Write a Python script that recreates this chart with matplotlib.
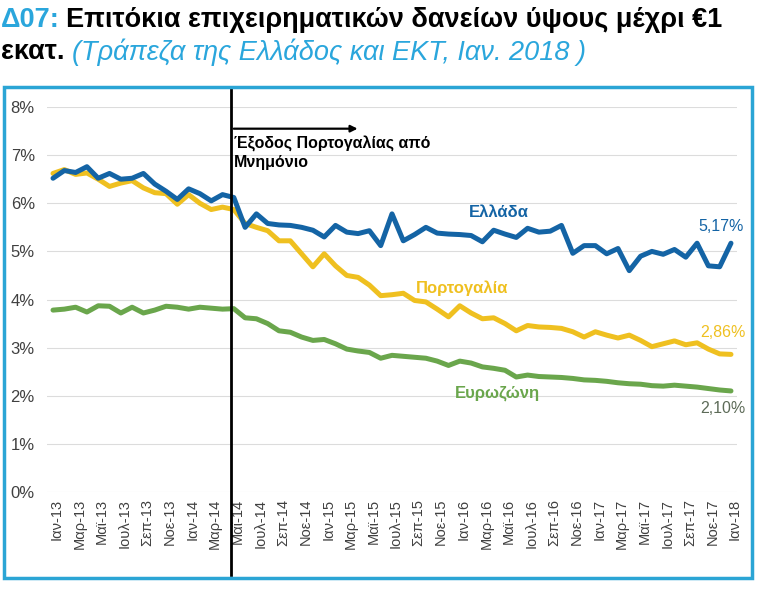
import matplotlib
matplotlib.use('Agg')
from matplotlib import pyplot as plt
from matplotlib.patches import Rectangle
from matplotlib.transforms import IdentityTransform, ScaledTranslation

plt.rcParams['font.family'] = ['Liberation Sans', 'DejaVu Sans']

# monthly, Jan-13 .. Jan-18
months = ['Ιαν', 'Φεβ', 'Μαρ', 'Απρ', 'Μαϊ', 'Ιουν', 'Ιουλ', 'Αυγ', 'Σεπ', 'Οκτ', 'Νοε', 'Δεκ']
labels = [months[i % 12] + '-' + str(13 + i // 12) for i in range(61)]

greece = [6.52, 6.68, 6.64, 6.76, 6.52, 6.62, 6.50, 6.52, 6.62, 6.40,
          6.25, 6.08, 6.30, 6.20, 6.05, 6.18, 6.12, 5.50, 5.78, 5.58,
          5.55, 5.54, 5.50, 5.44, 5.30, 5.54, 5.40, 5.37, 5.43, 5.12,
          5.78, 5.22, 5.35, 5.50, 5.38, 5.36, 5.35, 5.33, 5.20, 5.44,
          5.36, 5.29, 5.48, 5.40, 5.42, 5.54, 4.96, 5.12, 5.12, 4.95,
          5.06, 4.60, 4.90, 5.00, 4.94, 5.04, 4.88, 5.17, 4.70, 4.68,
          5.17]
portugal = [6.62, 6.70, 6.60, 6.63, 6.50, 6.35, 6.42, 6.47, 6.32, 6.22,
            6.20, 5.98, 6.18, 6.00, 5.87, 5.92, 5.87, 5.58, 5.50, 5.43,
            5.22, 5.22, 4.95, 4.68, 4.95, 4.70, 4.50, 4.46, 4.30, 4.08,
            4.10, 4.13, 3.98, 3.95, 3.80, 3.64, 3.87, 3.72, 3.60, 3.62,
            3.50, 3.35, 3.46, 3.43, 3.42, 3.40, 3.33, 3.22, 3.33, 3.26,
            3.20, 3.26, 3.15, 3.02, 3.08, 3.14, 3.06, 3.10, 2.97, 2.87,
            2.86]
eurozone = [3.78, 3.80, 3.84, 3.74, 3.87, 3.86, 3.72, 3.84, 3.72, 3.78,
            3.86, 3.84, 3.80, 3.84, 3.82, 3.80, 3.81, 3.62, 3.60, 3.50,
            3.35, 3.32, 3.22, 3.15, 3.17, 3.08, 2.97, 2.93, 2.90, 2.78,
            2.84, 2.82, 2.80, 2.78, 2.72, 2.63, 2.72, 2.68, 2.60, 2.57,
            2.53, 2.39, 2.43, 2.40, 2.39, 2.38, 2.36, 2.33, 2.32, 2.30,
            2.27, 2.25, 2.24, 2.21, 2.20, 2.22, 2.20, 2.18, 2.15, 2.12,
            2.10]

c_gr = '#1464a5'
c_pt = '#efc020'
c_ez = '#6aa64c'
c_title = '#2aa6dc'

fig = plt.figure(figsize=(7.69, 5.91), dpi=100)
ax = fig.add_axes([0.0616, 0.1675, 0.8963, 0.6514])

x = list(range(len(labels)))
for ys, c, z in [(greece, c_gr, 3), (portugal, c_pt, 2), (eurozone, c_ez, 2)]:
    ax.plot(x, ys, color=c, lw=3.6, solid_capstyle='round', solid_joinstyle='round', zorder=z)

ax.set_xlim(-0.5, 60.5)
ax.set_ylim(0, 8)
ax.set_yticks(range(0, 9))
ax.set_yticklabels([str(v) + '%' for v in range(0, 9)], fontsize=12, color='#404040')
ax.set_xticks(x[::2])
ax.set_xticklabels(labels[::2], rotation=90, fontsize=10.5, color='#404040')
ax.tick_params(length=0)
ax.tick_params(axis='y', pad=9)
ax.tick_params(axis='x', pad=5)
shift = ScaledTranslation(4 / 100, 0, fig.dpi_scale_trans)
for lab in ax.get_xticklabels():
    lab.set_transform(lab.get_transform() + shift)
ax.grid(axis='y', color='#dcdcdc', lw=0.8)
ax.set_axisbelow(True)
for s in ax.spines.values():
    s.set_visible(False)

# Portugal exits memorandum (May-14)
ax.plot([15.75, 15.75], [-1.72, 8.38], color='black', lw=2, clip_on=False, zorder=4)
ax.annotate('', xy=(27.2, 7.55), xytext=(15.75, 7.55),
            arrowprops=dict(arrowstyle='-|>', color='black', lw=1.6, mutation_scale=10))
ax.text(16.0, 7.4, 'Έξοδος Πορτογαλίας από\nΜνημόνιο', fontsize=11.5, fontweight='bold',
        va='top', ha='left', linespacing=1.25)

ax.text(39.5, 5.81, 'Ελλάδα', color=c_gr, fontsize=12, fontweight='bold', ha='center', va='center')
ax.text(36.2, 4.23, 'Πορτογαλία', color=c_pt, fontsize=12, fontweight='bold', ha='center', va='center')
ax.text(39.3, 2.05, 'Ευρωζώνη', color=c_ez, fontsize=12, fontweight='bold', ha='center', va='center')

ax.text(59.1, 5.52, '5,17%', color=c_gr, fontsize=11.5, ha='center', va='center')
ax.text(59.3, 3.32, '2,86%', color=c_pt, fontsize=11.5, ha='center', va='center')
ax.text(59.3, 1.74, '2,10%', color='#5d6b58', fontsize=11.5, ha='center', va='center')

# frame around chart
fig.patches.append(Rectangle((0.0052, 0.022), 0.9728, 0.831, transform=fig.transFigure,
                             fill=False, edgecolor='#2ba5d5', lw=2.5))

# title pieces, placed one after another in pixels
fig.canvas.draw()
r = fig.canvas.get_renderer()
H = 591


def put(x0, yc, s, **kw):
    t = fig.text(x0, H - yc, s, transform=IdentityTransform(), va='center', ha='left', **kw)
    return t.get_window_extent(renderer=r).x1


xe = put(1, 20, 'Δ07:', color=c_title, fontsize=19.5, fontweight='bold')
put(xe + 6, 20, 'Επιτόκια επιχειρηματικών δανείων ύψους μέχρι €1', color='black',
    fontsize=19.5, fontweight='bold')
xe = put(1, 52, 'εκατ.', color='black', fontsize=19.5, fontweight='bold')
put(xe + 7, 52, '(Τράπεζα της Ελλάδος και ΕΚΤ, Ιαν. 2018 )', color=c_title,
    fontsize=19.5, fontstyle='italic')

plt.savefig('out.png', dpi=100)
